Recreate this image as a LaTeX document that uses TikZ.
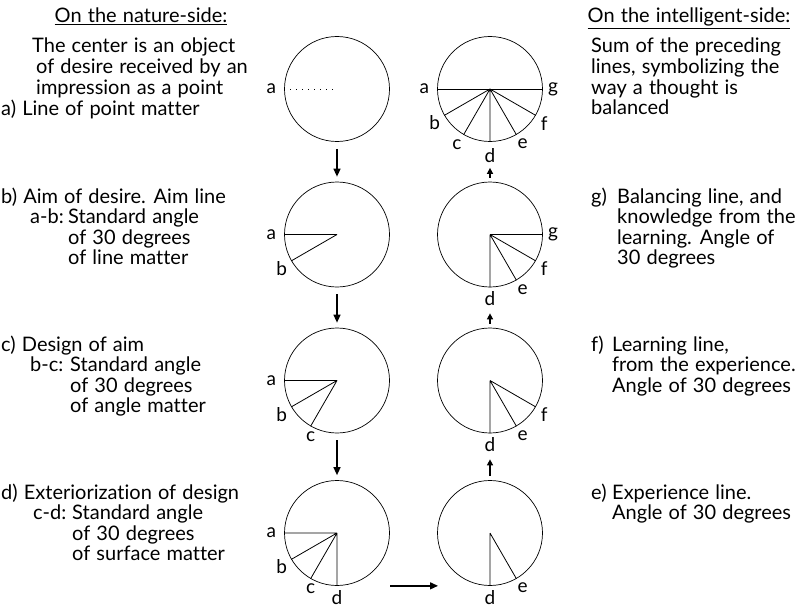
\documentclass[tikz,border=0pt]{standalone}
\usepackage{fontspec}
\setmainfont{Lato}[Ligatures={NoCommon}, WordSpace=1.2]
\usetikzlibrary{positioning,arrows.meta}
\newcommand{\txtlines}[1]{\begin{tabular}[t]{@{}l@{}}#1\end{tabular}}

\begin{document}
\begin{tikzpicture}[
    x=1pt, y=-1pt,
    ring/.style={
        draw,
        circle,
        minimum size=105pt,
        inner sep=0pt,
        line width=0.7pt
    },
    ray/.style={line width=0.8pt},
    lbl/.style={inner sep=0pt, font=\fontsize{19}{20}\selectfont},
    txt/.style={anchor=base west, inner sep=0pt, font=\fontsize{20}{19.7}\selectfont},
    head/.style={anchor=base, inner sep=0pt, font=\fontsize{20}{20}\selectfont},
    arr/.style={
        -{Triangle[length=8pt,width=7pt]},
        line width=1.4pt
    },
    uparr/.style={
        -{Triangle[length=6pt,width=6pt]},
        line width=1.4pt
    }
]
\useasboundingbox (0,0) rectangle (802,607);

% headings
\node[head] (natureHead) at (141,23) {\underline{On the nature-side:}};
\node[head] (intelHead) at (689,23) {\underline{On the intelligent-side:}};

% nature-side texts
\node[txt] (descA) at (1,53) {\txtlines{
    \hspace*{31pt}The center is an object\\
    \hspace*{35pt}of desire received by an\\
    \hspace*{35pt}impression as a point\\
    a) Line of point matter}};
\node[txt] (descB) at (1,203) {\txtlines{
    b) Aim of desire. Aim line\\
    \hspace*{29pt}\makebox[38pt][l]{a-b:}Standard angle\\
    \hspace*{67pt}of 30 degrees\\
    \hspace*{67pt}of line matter}};
\node[txt] (descC) at (1,351) {\txtlines{
    c) Design of aim\\
    \hspace*{29pt}\makebox[40pt][l]{b-c:}Standard angle\\
    \hspace*{69pt}of 30 degrees\\
    \hspace*{69pt}of angle matter}};
\node[txt] (descD) at (1,499) {\txtlines{
    d) Exteriorization of design\\
    \hspace*{32pt}\makebox[39pt][l]{c-d:}Standard angle\\
    \hspace*{71pt}of 30 degrees\\
    \hspace*{71pt}of surface matter}};

% intelligent-side texts
\node[txt] (descSum) at (591,53) {\txtlines{
    Sum of the preceding\\
    lines, symbolizing the\\
    way a thought is\\
    balanced}};
\node[txt] (descG) at (591,203) {\txtlines{
    \makebox[26pt][l]{g)}Balancing line, and\\
    \hspace*{26pt}knowledge from the\\
    \hspace*{26pt}learning. Angle of\\
    \hspace*{26pt}30 degrees}};
\node[txt] (descF) at (591,351) {\txtlines{
    \makebox[21pt][l]{f)}Learning line,\\
    \hspace*{21pt}from the experience.\\
    \hspace*{21pt}Angle of 30 degrees}};
\node[txt] (descE) at (591,499) {\txtlines{
    \makebox[21pt][l]{e)}Experience line.\\
    \hspace*{21pt}Angle of 30 degrees}};

% circles
\node[ring] (L1) at (337,89) {};
\node[ring] (L2) at (337,234.5) {};
\node[ring] (L3) at (337,380.5) {};
\node[ring] (L4) at (337,533) {};
\node[ring] (R1) at (490,89) {};
\node[ring] (R2) at (490,234.5) {};
\node[ring] (R3) at (490,380.5) {};
\node[ring] (R4) at (490,533) {};

% lines inside the circles
\draw[ray, dash pattern=on 1pt off 5pt] (L1.180) -- (L1.center);
\draw[ray] (L2.center) -- (L2.180) (L2.center) -- (L2.210);
\draw[ray] (L3.center) -- (L3.180) (L3.center) -- (L3.210) (L3.center) -- (L3.240);
\draw[ray] (L4.center) -- (L4.180) (L4.center) -- (L4.210) (L4.center) -- (L4.240) (L4.center) -- (L4.270);
\draw[ray] (R1.180) -- (R1.0);
\draw[ray] (R1.center) -- (R1.210) (R1.center) -- (R1.240) (R1.center) -- (R1.270) (R1.center) -- (R1.300) (R1.center) -- (R1.330);
\draw[ray] (R2.center) -- (R2.0) (R2.center) -- (R2.330) (R2.center) -- (R2.300) (R2.center) -- (R2.270);
\draw[ray] (R3.center) -- (R3.330) (R3.center) -- (R3.300) (R3.center) -- (R3.270);
\draw[ray] (R4.center) -- (R4.300) (R4.center) -- (R4.270);

% letters
\node[lbl, left=8pt of L1.180] (L1a) {a};
\node[lbl, left=8pt of L2.180] (L2a) {a};
\node[lbl, below left=0pt and 4pt of L2.210] (L2b) {b};
\node[lbl, left=8pt of L3.180] (L3a) {a};
\node[lbl, below left=0pt and 4pt of L3.210] (L3b) {b};
\node[lbl, below=5pt of L3.240] (L3c) {c};
\node[lbl, left=8pt of L4.180] (L4a) {a};
\node[lbl, below left=0pt and 4pt of L4.210] (L4b) {b};
\node[lbl, below=5pt of L4.240] (L4c) {c};
\node[lbl, below=4pt of L4.270] (L4d) {d};

\node[lbl, left=8pt of R1.180] (R1a) {a};
\node[lbl, below left=0pt and 4pt of R1.210] (R1b) {b};
\node[lbl, below left=5pt and 2pt of R1.240] (R1c) {c};
\node[lbl, below=6pt of R1.270] (R1d) {d};
\node[lbl, below right=4pt and 1pt of R1.300] (R1e) {e};
\node[lbl, below right=1pt and 5pt of R1.330] (R1f) {f};
\node[lbl, right=5pt of R1.0] (R1g) {g};

\node[lbl, right=5pt of R2.0] (R2g) {g};
\node[lbl, below right=1pt and 5pt of R2.330] (R2f) {f};
\node[lbl, below right=4pt and 1pt of R2.300] (R2e) {e};
\node[lbl, below=4pt of R2.270] (R2d) {d};

\node[lbl, below right=1pt and 5pt of R3.330] (R3f) {f};
\node[lbl, below right=4pt and 1pt of R3.300] (R3e) {e};
\node[lbl, below=4pt of R3.270] (R3d) {d};

\node[lbl, below right=4pt and 1pt of R4.300] (R4e) {e};
\node[lbl, below=4pt of R4.270] (R4d) {d};

% arrows
\draw[arr] ([yshift=-7pt]L1.south) -- ([yshift=5pt]L2.north);
\draw[arr] ([yshift=-7pt]L2.south) -- ([yshift=5pt]L3.north);
\draw[arr] ([yshift=-7pt]L3.south) -- ([yshift=5pt]L4.north);
\draw[uparr] ([yshift=4pt]R2.north) -- ([yshift=-26pt]R1.south);
\draw[uparr] ([yshift=4pt]R3.north) -- ([yshift=-26pt]R2.south);
\draw[uparr] ([yshift=4pt]R4.north) -- ([yshift=-26pt]R3.south);
\draw[arr] ([xshift=53pt]L4.south) -- ([xshift=-52pt]R4.south);

\end{tikzpicture}
\end{document}
